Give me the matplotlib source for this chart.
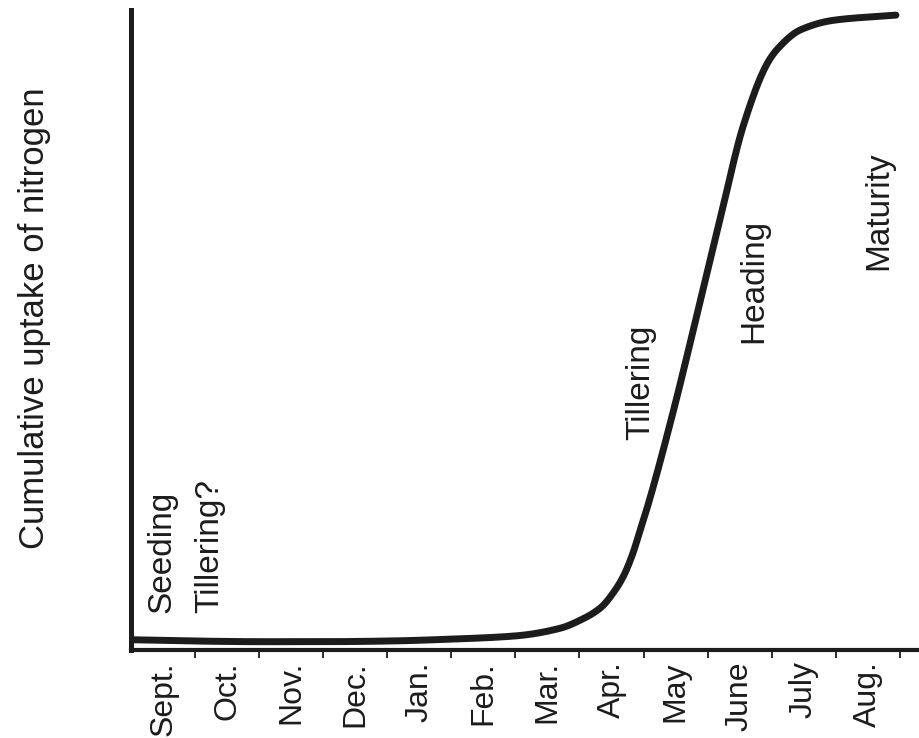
import numpy as np
import matplotlib
matplotlib.use('Agg')
import matplotlib.pyplot as plt

plt.rcParams['font.family'] = ['Liberation Sans', 'DejaVu Sans']

# months are intervals, tick at the end of each month
months = ['Sept.', 'Oct.', 'Nov.', 'Dec.', 'Jan.', 'Feb.', 'Mar.',
          'Apr.', 'May', 'June', 'July', 'Aug.']

# cumulative N uptake (relative, 0-100), x in months from seeding
t = [0.03, 1.0, 2.0, 3.0, 4.0, 5.0, 6.0, 6.70, 7.02, 7.33, 7.56, 7.69, 7.83,
     7.95, 8.08, 8.47, 8.89, 9.20, 9.56, 9.94, 10.09, 10.45, 10.97, 11.94]
n_uptake = [1.6, 1.4, 1.3, 1.3, 1.4, 1.7, 2.2, 3.4, 4.7, 6.6, 9.4, 11.6, 15.0,
            18.8, 23.0, 37.5, 54.7, 67.5, 82.0, 91.8, 93.9, 96.9, 98.4, 99.2]

stages = ['Seeding', 'Tillering?', 'Tillering', 'Heading', 'Maturity']

ink = '#1c1c1c'


def pchip(x, y, xn):
    # monotone cubic (Fritsch-Carlson) so the drawn curve is smooth
    x = np.asarray(x, float)
    y = np.asarray(y, float)
    h = np.diff(x)
    d = np.diff(y) / h
    m = np.zeros_like(y)
    for k in range(1, len(y) - 1):
        if d[k-1] * d[k] > 0:
            w1 = 2*h[k] + h[k-1]
            w2 = h[k] + 2*h[k-1]
            m[k] = (w1 + w2) / (w1/d[k-1] + w2/d[k])
    m[0] = d[0]
    m[-1] = d[-1]
    idx = np.clip(np.searchsorted(x, xn) - 1, 0, len(h) - 1)
    s = (xn - x[idx]) / h[idx]
    h00 = 2*s**3 - 3*s**2 + 1
    h10 = s**3 - 2*s**2 + s
    h01 = -2*s**3 + 3*s**2
    h11 = s**3 - s**2
    return h00*y[idx] + h10*h[idx]*m[idx] + h01*y[idx+1] + h11*h[idx]*m[idx+1]


fig = plt.figure(figsize=(9.19, 7.38), dpi=100)
ax = fig.add_axes([131/919, 88/738, 788/919, 640/738])

tt = np.linspace(t[0], t[-1], 800)
ax.plot(tt, pchip(t, n_uptake, tt), color=ink, lw=5, solid_capstyle='round')

ax.set_xlim(0, 12.3)
ax.set_ylim(0, 100)

for s in ['top', 'right']:
    ax.spines[s].set_visible(False)
ax.spines['left'].set_linewidth(3.6)
ax.spines['bottom'].set_linewidth(3.0)
ax.spines['left'].set_color(ink)
ax.spines['bottom'].set_color(ink)

ax.set_yticks([])
ax.set_xticks(np.arange(1, len(months) + 1))
ax.set_xticklabels([])
ax.tick_params(axis='x', which='major', direction='out', length=6, width=1.3, color=ink)
ax.set_xticks(np.arange(len(months)) + 0.5, minor=True)
ax.set_xticklabels(months, minor=True, rotation=90, fontsize=23, color=ink)
ax.tick_params(axis='x', which='minor', length=0, pad=8)

fig.text(35/919, 1 - 318/738, 'Cumulative uptake of nitrogen', rotation=90,
         ha='center', va='center', fontsize=25, color=ink)

ax.text(0.48, 5.8, stages[0], rotation=90, ha='center', va='bottom', fontsize=24, color=ink)
ax.text(1.23, 5.8, stages[1], rotation=90, ha='center', va='bottom', fontsize=24, color=ink)
ax.text(7.95, 32.8, stages[2], rotation=90, ha='center', va='bottom', fontsize=24, color=ink)
ax.text(9.72, 48.0, stages[3], rotation=90, ha='center', va='bottom', fontsize=24, color=ink)
ax.text(11.67, 59.4, stages[4], rotation=90, ha='center', va='bottom', fontsize=24, color=ink)

fig.savefig('out.png', dpi=100)
